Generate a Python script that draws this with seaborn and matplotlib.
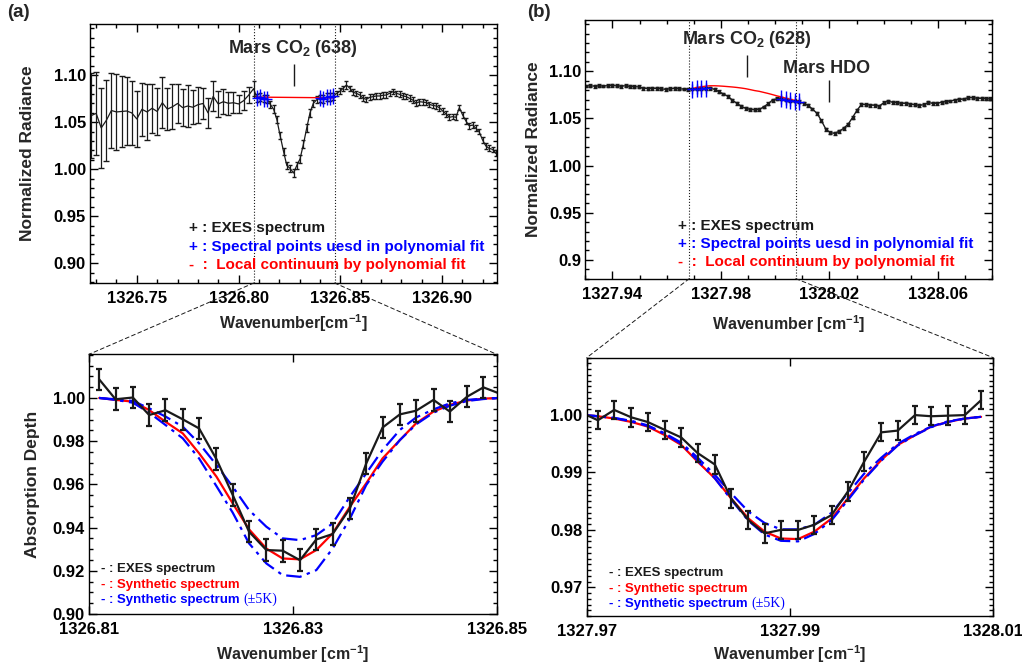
import numpy as np
import matplotlib
matplotlib.use('Agg')
from matplotlib import pyplot as plt
from matplotlib.patches import ConnectionPatch
from matplotlib.ticker import MultipleLocator
import seaborn as sns

# ---------------------------------------------------------------- data
# (a) top: EXES spectrum around the CO2 (638) line, coarse part on the left
A_LEFT_WN = [1326.7275, 1326.7300, 1326.7325, 1326.7350, 1326.7375, 1326.7400, 1326.7425, 1326.7450,
             1326.7475, 1326.7500, 1326.7525, 1326.7550, 1326.7575, 1326.7600, 1326.7625, 1326.7650,
             1326.7675, 1326.7700, 1326.7725, 1326.7750, 1326.7775, 1326.7800, 1326.7825, 1326.7850,
             1326.7875, 1326.7900, 1326.7925, 1326.7950, 1326.7975, 1326.8000, 1326.8025, 1326.8050]
A_LEFT_RAD = [1.0570, 1.0595, 1.0440, 1.0520, 1.0625, 1.0610, 1.0615, 1.0620,
              1.0600, 1.0535, 1.0638, 1.0610, 1.0649, 1.0615, 1.0708, 1.0640,
              1.0665, 1.0700, 1.0656, 1.0673, 1.0660, 1.0687, 1.0700, 1.0600,
              1.0775, 1.0695, 1.0719, 1.0702, 1.0708, 1.0695, 1.0730, 1.0790]
A_LEFT_ERR = [0.045, 0.044, 0.043, 0.043, 0.040, 0.040, 0.038, 0.036,
              0.034, 0.030, 0.028, 0.030, 0.026, 0.025, 0.027, 0.022,
              0.024, 0.021, 0.020, 0.022, 0.018, 0.019, 0.017, 0.016,
              0.016, 0.014, 0.013, 0.012, 0.011, 0.010, 0.010, 0.009]

A_WN = [1326.8074, 1326.8090, 1326.8107, 1326.8123, 1326.8139, 1326.8156, 1326.8172, 1326.8188,
        1326.8204, 1326.8221, 1326.8237, 1326.8253, 1326.8270, 1326.8286, 1326.8302, 1326.8319,
        1326.8335, 1326.8351, 1326.8367, 1326.8384, 1326.8400, 1326.8416, 1326.8433, 1326.8449,
        1326.8465, 1326.8482, 1326.8498, 1326.8514, 1326.8530, 1326.8547, 1326.8563, 1326.8579,
        1326.8596, 1326.8612, 1326.8628, 1326.8645, 1326.8661, 1326.8677, 1326.8693, 1326.8710,
        1326.8726, 1326.8742, 1326.8759, 1326.8775, 1326.8791, 1326.8808, 1326.8824, 1326.8840,
        1326.8856, 1326.8873, 1326.8889, 1326.8905, 1326.8922, 1326.8938, 1326.8954, 1326.8971,
        1326.8987, 1326.9003, 1326.9019, 1326.9036, 1326.9052, 1326.9068, 1326.9085, 1326.9101,
        1326.9117, 1326.9134, 1326.9150, 1326.9166, 1326.9182, 1326.9199, 1326.9215, 1326.9231,
        1326.9248, 1326.9264, 1326.9280]
A_RAD = [1.0858, 1.0759, 1.0767, 1.0752, 1.0748, 1.0690, 1.0640, 1.0530,
         1.0360, 1.0190, 1.0040, 1.0010, 0.9960, 1.0040, 1.0110, 1.0270,
         1.0440, 1.0600, 1.0700, 1.0740, 1.0755, 1.0748, 1.0768, 1.0770,
         1.0775, 1.0808, 1.0830, 1.0861, 1.0897, 1.0861, 1.0819, 1.0808,
         1.0790, 1.0755, 1.0744, 1.0766, 1.0773, 1.0780, 1.0780, 1.0787,
         1.0790, 1.0808, 1.0826, 1.0808, 1.0798, 1.0780, 1.0773, 1.0755,
         1.0737, 1.0702, 1.0719, 1.0715, 1.0709, 1.0690, 1.0680, 1.0673,
         1.0655, 1.0620, 1.0590, 1.0553, 1.0560, 1.0553, 1.0656, 1.0578,
         1.0514, 1.0461, 1.0471, 1.0436, 1.0400, 1.0312, 1.0248, 1.0223,
         1.0212, 1.0170, 1.0160]
A_ERR = [0.008, 0.004, 0.004, 0.004, 0.004, 0.004, 0.004, 0.004,
         0.004, 0.004, 0.004, 0.004, 0.004, 0.004, 0.004, 0.004,
         0.004, 0.004, 0.004, 0.004, 0.004, 0.004, 0.004, 0.004,
         0.004, 0.003, 0.003, 0.003, 0.004, 0.003, 0.003, 0.003,
         0.003, 0.003, 0.003, 0.003, 0.003, 0.003, 0.003, 0.003,
         0.003, 0.003, 0.003, 0.003, 0.003, 0.003, 0.003, 0.003,
         0.003, 0.003, 0.003, 0.003, 0.003, 0.003, 0.003, 0.003,
         0.003, 0.003, 0.003, 0.003, 0.003, 0.003, 0.003, 0.003,
         0.003, 0.003, 0.003, 0.003, 0.003, 0.003, 0.003, 0.003,
         0.003, 0.003, 0.003]
# points used in the polynomial fit (blue) and the fitted continuum (red)
A_FIT_WN = [1326.8090, 1326.8107, 1326.8123, 1326.8139,
            1326.8400, 1326.8416, 1326.8433, 1326.8449, 1326.8465]
A_FIT_RAD = [1.0759, 1.0767, 1.0752, 1.0748, 1.0755, 1.0748, 1.0768, 1.0770, 1.0775]
A_CONT_WN = [1326.8085, 1326.8280, 1326.8470]
A_CONT_RAD = [1.0768, 1.0764, 1.0760]
A_EDGES = [1326.8075, 1326.8472]

# (b) top: EXES spectrum around CO2 (628) and HDO
B_WN = [1327.9301, 1327.9317, 1327.9334, 1327.9350, 1327.9367, 1327.9383, 1327.9399, 1327.9416,
        1327.9432, 1327.9449, 1327.9465, 1327.9481, 1327.9498, 1327.9514, 1327.9531, 1327.9547,
        1327.9563, 1327.9580, 1327.9596, 1327.9613, 1327.9629, 1327.9645, 1327.9662, 1327.9678,
        1327.9695, 1327.9711, 1327.9727, 1327.9744, 1327.9760, 1327.9777, 1327.9793, 1327.9809,
        1327.9826, 1327.9842, 1327.9859, 1327.9875, 1327.9891, 1327.9908, 1327.9924, 1327.9941,
        1327.9957, 1327.9973, 1327.9990, 1328.0006, 1328.0023, 1328.0039, 1328.0055, 1328.0072,
        1328.0088, 1328.0105, 1328.0121, 1328.0137, 1328.0154, 1328.0170, 1328.0187, 1328.0203,
        1328.0219, 1328.0236, 1328.0252, 1328.0269, 1328.0285, 1328.0301, 1328.0318, 1328.0334,
        1328.0351, 1328.0367, 1328.0383, 1328.0400, 1328.0416, 1328.0433, 1328.0449, 1328.0465,
        1328.0482, 1328.0498, 1328.0515, 1328.0531, 1328.0547, 1328.0564, 1328.0580, 1328.0597,
        1328.0613, 1328.0629, 1328.0646, 1328.0662, 1328.0679, 1328.0695, 1328.0711, 1328.0728,
        1328.0744, 1328.0761, 1328.0777, 1328.0793]
B_RAD = [1.0845, 1.0847, 1.0843, 1.0846, 1.0844, 1.0848, 1.0850, 1.0846,
         1.0843, 1.0847, 1.0840, 1.0837, 1.0835, 1.0822, 1.0818, 1.0820,
         1.0819, 1.0815, 1.0809, 1.0815, 1.0819, 1.0815, 1.0812, 1.0810,
         1.0812, 1.0815, 1.0818, 1.0820, 1.0819, 1.0809, 1.0784, 1.0760,
         1.0735, 1.0695, 1.0660, 1.0630, 1.0607, 1.0596, 1.0592, 1.0596,
         1.0622, 1.0655, 1.0695, 1.0710, 1.0708, 1.0700, 1.0690, 1.0685,
         1.0678, 1.0662, 1.0640, 1.0600, 1.0555, 1.0478, 1.0385, 1.0350,
         1.0342, 1.0365, 1.0395, 1.0440, 1.0510, 1.0585, 1.0649, 1.0647,
         1.0642, 1.0640, 1.0630, 1.0668, 1.0682, 1.0672, 1.0667, 1.0662,
         1.0660, 1.0652, 1.0645, 1.0640, 1.0645, 1.0670, 1.0660, 1.0662,
         1.0671, 1.0680, 1.0686, 1.0695, 1.0702, 1.0706, 1.0722, 1.0720,
         1.0715, 1.0713, 1.0710, 1.0708]
B_ERR = 0.0015
B_FIT_WN = [1327.9695, 1327.9711, 1327.9727, 1327.9744,
            1328.0023, 1328.0039, 1328.0055, 1328.0072, 1328.0088]
B_FIT_RAD = [1.0812, 1.0815, 1.0818, 1.0820, 1.0708, 1.0700, 1.0690, 1.0685, 1.0678]
B_CONT_WN = [1327.9695, 1327.9711, 1327.9727, 1327.9744, 1327.9760, 1327.9777, 1327.9793, 1327.9809,
             1327.9826, 1327.9842, 1327.9859, 1327.9875, 1327.9891, 1327.9908, 1327.9924, 1327.9941,
             1327.9957, 1327.9973, 1327.9990, 1328.0006, 1328.0023, 1328.0039, 1328.0055, 1328.0072,
             1328.0088]
B_CONT_RAD = [1.0818, 1.0828, 1.0836, 1.0843, 1.0847, 1.0847, 1.0845, 1.0842,
              1.0838, 1.0834, 1.0829, 1.0823, 1.0816, 1.0806, 1.0796, 1.0788,
              1.0777, 1.0766, 1.0753, 1.0740, 1.0728, 1.0715, 1.0703, 1.0692,
              1.0680]
B_EDGES = [1327.9683, 1328.0076]

# (a) bottom: absorption depth, observed vs synthetic
C_WN = [1326.8110, 1326.8126, 1326.8143, 1326.8159, 1326.8175, 1326.8192, 1326.8208, 1326.8225,
        1326.8241, 1326.8257, 1326.8274, 1326.8290, 1326.8307, 1326.8323, 1326.8339, 1326.8356,
        1326.8372, 1326.8388, 1326.8405, 1326.8421, 1326.8438, 1326.8454, 1326.8471, 1326.8487,
        1326.8503]
C_OBS = [1.0086, 0.9994, 1.0002, 0.9921, 0.9943, 0.9901, 0.9859, 0.9717,
         0.9551, 0.9381, 0.9296, 0.9293, 0.9249, 0.9345, 0.9370, 0.9489,
         0.9697, 0.9863, 0.9924, 0.9941, 0.9991, 0.9937, 1.0006, 1.0049,
         1.0020]
C_ERR = 0.005
C_SYN = [1.0000, 0.9991, 0.9983, 0.9944, 0.9890, 0.9836, 0.9744, 0.9636,
         0.9512, 0.9392, 0.9303, 0.9257, 0.9253, 0.9296, 0.9373, 0.9497,
         0.9605, 0.9720, 0.9805, 0.9883, 0.9937, 0.9968, 0.9988, 0.9997,
         1.0000]
C_SYN_HI = [1.0000, 0.9991, 0.9978, 0.9932, 0.9875, 0.9813, 0.9720, 0.9592,
            0.9469, 0.9327, 0.9234, 0.9180, 0.9172, 0.9203, 0.9303, 0.9442,
            0.9597, 0.9705, 0.9805, 0.9878, 0.9932, 0.9964, 0.9986, 0.9995,
            1.0000]
C_SYN_LO = [1.0000, 0.9994, 0.9986, 0.9952, 0.9914, 0.9867, 0.9790, 0.9690,
            0.9589, 0.9481, 0.9404, 0.9350, 0.9342, 0.9365, 0.9419, 0.9543,
            0.9651, 0.9759, 0.9852, 0.9910, 0.9947, 0.9975, 0.9991, 0.9997,
            1.0000]

# (b) bottom
D_WN = B_CONT_WN
D_OBS = [1.0004, 0.9991, 1.0009, 0.9996, 0.9988, 0.9974, 0.9961, 0.9934,
         0.9914, 0.9855, 0.9817, 0.9794, 0.9800, 0.9800, 0.9809, 0.9826,
         0.9867, 0.9919, 0.9970, 0.9973, 1.0000, 0.9998, 0.9999, 1.0000,
         1.0026]
D_ERR = 0.0016
D_SYN = [1.0000, 0.9998, 0.9994, 0.9988, 0.9980, 0.9965, 0.9948, 0.9919,
         0.9890, 0.9855, 0.9820, 0.9797, 0.9785, 0.9784, 0.9797, 0.9820,
         0.9855, 0.9890, 0.9922, 0.9948, 0.9965, 0.9980, 0.9988, 0.9994,
         0.9997]
D_SYN_HI = [1.0000, 0.9998, 0.9995, 0.9989, 0.9981, 0.9967, 0.9950, 0.9921,
            0.9890, 0.9853, 0.9816, 0.9792, 0.9781, 0.9780, 0.9793, 0.9817,
            0.9852, 0.9888, 0.9921, 0.9947, 0.9965, 0.9979, 0.9988, 0.9994,
            0.9997]
D_SYN_LO = [1.0000, 0.9998, 0.9995, 0.9990, 0.9982, 0.9968, 0.9952, 0.9926,
            0.9896, 0.9864, 0.9832, 0.9812, 0.9801, 0.9801, 0.9809, 0.9830,
            0.9864, 0.9898, 0.9926, 0.9950, 0.9967, 0.9980, 0.9989, 0.9994,
            0.9997]

BLUE = '#0000ff'
RED = '#ff0000'
DASHDOT = (0, (7, 2.5, 1.5, 2.5))
TICK_FS = 12
LABEL_FS = 12.5

# ---------------------------------------------------------------- style
sns.set_theme(style='ticks')
plt.rcParams['font.family'] = ['Liberation Sans', 'DejaVu Sans']
plt.rcParams['font.weight'] = 'bold'
plt.rcParams['axes.labelweight'] = 'bold'
plt.rcParams['mathtext.default'] = 'regular'
plt.rcParams['axes.linewidth'] = 1.0
plt.rcParams['axes.edgecolor'] = 'black'


def line(ax, x, y, **kw):
    sns.lineplot(x=x, y=y, ax=ax, estimator=None, sort=False, legend=False, **kw)


def style_axes(ax, xticks, xlabels, yticks, ylabels, xminor=None, yminor=None):
    ax.set_xticks(xticks, labels=xlabels)
    ax.set_yticks(yticks, labels=ylabels)
    if xminor:
        ax.xaxis.set_minor_locator(MultipleLocator(xminor))
    if yminor:
        ax.yaxis.set_minor_locator(MultipleLocator(yminor))
    ax.tick_params(which='both', direction='in', top=True, right=True, width=1.0, colors='black')
    ax.tick_params(which='major', length=6, labelsize=TICK_FS)
    ax.tick_params(which='minor', length=3)
    ax.tick_params(axis='x', pad=6)
    ax.tick_params(axis='y', pad=3)
    for s in ax.spines.values():
        s.set_visible(True)


fig = plt.figure(figsize=(10.22, 6.64), dpi=100)
ax_a = fig.add_axes([0.0881, 0.5738, 0.3982, 0.3901])
ax_b = fig.add_axes([0.5727, 0.5803, 0.3982, 0.3896])
ax_c = fig.add_axes([0.0871, 0.0753, 0.3989, 0.3911])
ax_d = fig.add_axes([0.5741, 0.0723, 0.3978, 0.3890])

# ---------------------------------------------------------------- (a) top
ax = ax_a
ax.errorbar(A_LEFT_WN, A_LEFT_RAD, yerr=A_LEFT_ERR, fmt='none', ecolor='k', elinewidth=0.9, capsize=2)
line(ax, A_LEFT_WN + A_WN, A_LEFT_RAD + A_RAD, color='k', lw=0.9)
ax.errorbar(A_WN, A_RAD, yerr=A_ERR, fmt='none', ecolor='k', elinewidth=0.9, capsize=1.5)
line(ax, A_CONT_WN, A_CONT_RAD, color=RED, lw=1.0)
ax.errorbar(A_FIT_WN, A_FIT_RAD, yerr=0.0085, fmt='+', color=BLUE, ms=7, mew=1.0, elinewidth=1.0)
line(ax, A_FIT_WN[:4], A_FIT_RAD[:4], color=BLUE, lw=1.0)
line(ax, A_FIT_WN[4:], A_FIT_RAD[4:], color=BLUE, lw=1.0)
for x in A_EDGES:
    ax.axvline(x, color='k', ls=':', lw=0.8)
ax.vlines(1326.8270, 1.0886, 1.1120, color='k', lw=1.0)
ax.text(1326.8267, 1.1287, 'Mars CO$_2$ (638)', ha='center', va='center', fontsize=13)
ax.text(1326.7754, 0.9372, '+ : EXES spectrum', color='k', fontsize=11, va='center')
ax.text(1326.7754, 0.9177, '+ : Spectral points uesd in polynomial fit', color=BLUE, fontsize=11, va='center')
ax.text(1326.7754, 0.8982, '-  :  Local continuum by polynomial fit', color=RED, fontsize=11, va='center')
ax.set_xlim(1326.727, 1326.927)
ax.set_ylim(0.879, 1.1546)
style_axes(ax, [1326.75, 1326.80, 1326.85, 1326.90], ['1326.75', '1326.80', '1326.85', '1326.90'],
           [0.90, 0.95, 1.00, 1.05, 1.10], ['0.90', '0.95', '1.00', '1.05', '1.10'], 0.01, 0.01)
ax.set_xlabel('Wavenumber[cm$^{-1}$]', fontsize=11.5, va='top')
ax.xaxis.set_label_coords(0.5, -0.112)
ax.set_ylabel('Normalized Radiance', fontsize=LABEL_FS)
ax.yaxis.set_label_coords(-0.135, 0.5)

# ---------------------------------------------------------------- (b) top
ax = ax_b
line(ax, B_WN, B_RAD, color='k', lw=1.0)
ax.errorbar(B_WN, B_RAD, yerr=B_ERR, fmt='s', color='k', ms=1.8, elinewidth=0.8, capsize=1.2)
line(ax, B_CONT_WN, B_CONT_RAD, color=RED, lw=1.0)
ax.errorbar(B_FIT_WN, B_FIT_RAD, yerr=0.009, fmt='+', color=BLUE, ms=7, mew=1.0, elinewidth=1.0)
line(ax, B_FIT_WN[:4], B_FIT_RAD[:4], color=BLUE, lw=1.0)
line(ax, B_FIT_WN[4:], B_FIT_RAD[4:], color=BLUE, lw=1.0)
for x in B_EDGES:
    ax.axvline(x, color='k', ls=':', lw=0.8)
ax.vlines(1327.9897, 1.0936, 1.1173, color='k', lw=1.0)
ax.vlines(1328.0200, 1.0677, 1.0908, color='k', lw=1.0)
ax.text(1327.9896, 1.1340, 'Mars CO$_2$ (628)', ha='center', va='center', fontsize=13)
ax.text(1328.0191, 1.1032, 'Mars HDO', ha='center', va='center', fontsize=13)
ax.text(1327.9643, 0.9358, '+ : EXES spectrum', color='k', fontsize=11, va='center')
ax.text(1327.9643, 0.9167, '+ : Spectral points uesd in polynomial fit', color=BLUE, fontsize=11, va='center')
ax.text(1327.9643, 0.8972, '-  :  Local continuum by polynomial fit', color=RED, fontsize=11, va='center')
ax.set_xlim(1327.930, 1328.080)
ax.set_ylim(0.880, 1.1545)
style_axes(ax, [1327.94, 1327.98, 1328.02, 1328.06], ['1327.94', '1327.98', '1328.02', '1328.06'],
           [0.90, 0.95, 1.00, 1.05, 1.10], ['0.9', '0.95', '1.00', '1.05', '1.10'], 0.01, 0.01)
ax.set_xlabel('Wavenumber [cm$^{-1}$]', fontsize=11.5, va='top')
ax.xaxis.set_label_coords(0.5, -0.133)
ax.set_ylabel('Normalized Radiance', fontsize=LABEL_FS)
ax.yaxis.set_label_coords(-0.109, 0.5)

# ---------------------------------------------------------------- (a) bottom
ax = ax_c
line(ax, C_WN, C_SYN, color=RED, lw=1.6)
line(ax, C_WN, C_SYN_HI, color=BLUE, lw=1.6, linestyle=DASHDOT)
line(ax, C_WN, C_SYN_LO, color=BLUE, lw=1.6, linestyle=DASHDOT)
line(ax, C_WN, C_OBS, color='k', lw=1.6)
ax.errorbar(C_WN, C_OBS, yerr=C_ERR, fmt='none', ecolor='k', elinewidth=1.6, capsize=2.2, capthick=1.6)
ax.set_xlim(1326.81, 1326.85)
ax.set_ylim(0.90, 1.0202)
t = ax.text(1326.8112, 0.9206, '- : EXES spectrum', color='k', fontsize=9.5, va='center')
t = ax.text(1326.8112, 0.9134, '- : Synthetic spectrum', color=RED, fontsize=9.5, va='center')
t = ax.text(1326.8112, 0.9064, '- : Synthetic spectrum ', color=BLUE, fontsize=9.5, va='center')
ax.annotate('(±5K)', xy=(1, 0), xycoords=t, va='bottom', ha='left', color=BLUE, fontsize=10,
            family='Liberation Serif', fontweight='normal')
style_axes(ax, [1326.81, 1326.83, 1326.85], ['1326.81', '1326.83', '1326.85'],
           [0.90, 0.92, 0.94, 0.96, 0.98, 1.00], ['0.90', '0.92', '0.94', '0.96', '0.98', '1.00'],
           None, 0.005)
ax.set_xlabel('Wavenumber [cm$^{-1}$]', fontsize=11.5, va='top')
ax.xaxis.set_label_coords(0.5, -0.112)
ax.set_ylabel('Absorption Depth', fontsize=LABEL_FS)
ax.yaxis.set_label_coords(-0.12, 0.5)

# ---------------------------------------------------------------- (b) bottom
ax = ax_d
line(ax, D_WN, D_SYN, color=RED, lw=1.6)
line(ax, D_WN, D_SYN_HI, color=BLUE, lw=1.6, linestyle=DASHDOT)
line(ax, D_WN, D_SYN_LO, color=BLUE, lw=1.6, linestyle=DASHDOT)
line(ax, D_WN, D_OBS, color='k', lw=1.6)
ax.errorbar(D_WN, D_OBS, yerr=D_ERR, fmt='none', ecolor='k', elinewidth=1.6, capsize=2.2, capthick=1.6)
ax.set_xlim(1327.97, 1328.01)
ax.set_ylim(0.965, 1.01)
t = ax.text(1327.9722, 0.97243, '- : EXES spectrum', color='k', fontsize=9.5, va='center')
t = ax.text(1327.9722, 0.96970, '- : Synthetic spectrum', color=RED, fontsize=9.5, va='center')
t = ax.text(1327.9722, 0.96703, '- : Synthetic spectrum ', color=BLUE, fontsize=9.5, va='center')
ax.annotate('(±5K)', xy=(1, 0), xycoords=t, va='bottom', ha='left', color=BLUE, fontsize=10,
            family='Liberation Serif', fontweight='normal')
style_axes(ax, [1327.97, 1327.99, 1328.01], ['1327.97', '1327.99', '1328.01'],
           [0.97, 0.98, 0.99, 1.00], ['0.97', '0.98', '0.99', '1.00'], None, 0.001)
ax.set_xlabel('Wavenumber [cm$^{-1}$]', fontsize=11.5, va='top')
ax.xaxis.set_label_coords(0.5, -0.105)

# ---------------------------------------------------------------- zoom connectors
for top, bot, edges in [(ax_a, ax_c, A_EDGES), (ax_b, ax_d, B_EDGES)]:
    y0 = top.get_ylim()[0]
    bx = bot.get_xlim()
    by = bot.get_ylim()[1]
    for xe, xb in zip(edges, bx):
        con = ConnectionPatch(xyA=(xe, y0), coordsA=top.transData, xyB=(xb, by), coordsB=bot.transData,
                              color='k', lw=0.7, linestyle=(0, (4, 3)))
        fig.add_artist(con)

fig.text(7 / 1022, 1 - 4 / 664, '(a)', fontsize=13.5, va='top', ha='left')
fig.text(527 / 1022, 1 - 4 / 664, '(b)', fontsize=13.5, va='top', ha='left')

plt.savefig('out.png', dpi=100)
